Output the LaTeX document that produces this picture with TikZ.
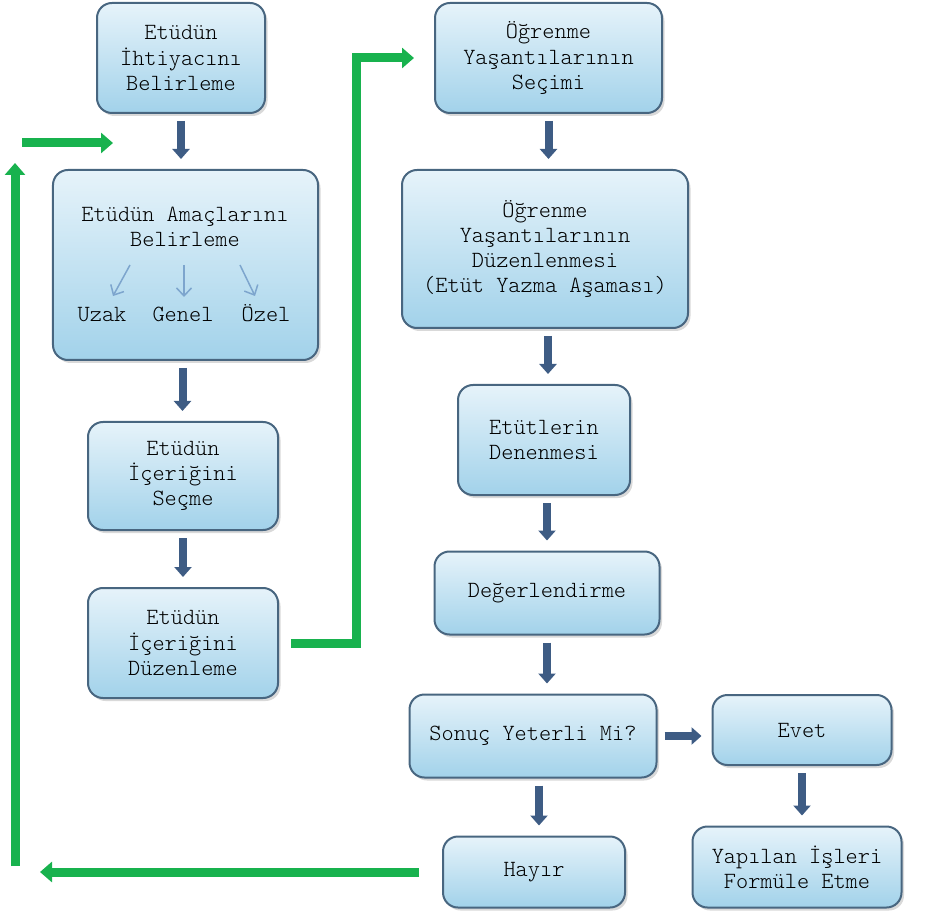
\documentclass[tikz,border=0pt]{standalone}
\usepackage{fontspec}
\newfontfamily\boxfont{Latin Modern Mono Light}
\usetikzlibrary{arrows.meta,shadows}
\definecolor{boxtop}{RGB}{230,243,250}
\definecolor{boxbot}{RGB}{162,210,234}
\definecolor{boxline}{RGB}{72,102,128}
\definecolor{flowblue}{RGB}{62,92,132}
\definecolor{backgreen}{RGB}{24,178,78}
\definecolor{subblue}{RGB}{125,165,205}
\tikzset{
  box/.style={draw=boxline, line width=0.4mm, rounded corners=3mm,
    top color=boxtop, bottom color=boxbot, align=center,
    font=\boxfont\fontsize{13.2}{14.4}\selectfont,
    drop shadow={shadow xshift=0.5mm, shadow yshift=-0.6mm, opacity=0.3}},
  flowarrow/.style={flowblue, line width=1.6mm,
    -{Triangle[width=3.4mm,length=2mm]}, shorten <=1.4mm, shorten >=2mm},
  backarrow/.style={backgreen, line width=1.8mm, -{Triangle[width=4mm,length=2.4mm]}},
  subarrow/.style={subblue, line width=0.3mm, -{Straight Barb[width=3mm,length=1.6mm]}},
  lbl/.style={font=\boxfont\fontsize{13.2}{14.4}\selectfont}
}
\begin{document}
\begin{tikzpicture}[x=0.2mm, y=-0.2mm]
  \useasboundingbox (0,0) rectangle (934,914);
  % left column
  \node[box, minimum width=33.6mm, minimum height=22mm] (ihtiyac) at (181,58) {Etüdün\\İhtiyacını\\Belirleme};
  \node[box, minimum width=53mm, minimum height=38mm] (amac) at (185.5,265) {};
  \node[lbl, align=center] (amacyazi) at (185,227) {Etüdün Amaçlarını\\Belirleme};
  \node[lbl, anchor=base] (uzak) at (102,322) {Uzak};
  \node[lbl, anchor=base] (genel) at (183,322) {Genel};
  \node[lbl, anchor=base] (ozel) at (266,322) {Özel};
  \node[box, minimum width=38mm, minimum height=21.6mm] (icsec) at (183,476) {Etüdün\\İçeriğini\\Seçme};
  \node[box, minimum width=38mm, minimum height=22mm] (icduzen) at (183,643) {Etüdün\\İçeriğini\\Düzenleme};
  % right column
  \node[box, minimum width=45.4mm, minimum height=22mm] (yassec) at (548.5,58) {Öğrenme\\Yaşantılarının\\Seçimi};
  \node[box, minimum width=57.2mm, minimum height=31.6mm] (yasduzen) at (545,249) {Öğrenme\\Yaşantılarının\\Düzenlenmesi\\(Etüt Yazma Aşaması)};
  \node[box, minimum width=34.4mm, minimum height=22mm] (deneme) at (544,440) {Etütlerin\\Denenmesi};
  \node[box, minimum width=45mm, minimum height=16.6mm] (deger) at (547,593) {Değerlendirme};
  \node[box, minimum width=49.4mm, minimum height=16.6mm] (sonuc) at (533,736) {Sonuç Yeterli Mi?};
  \node[box, minimum width=36.4mm, minimum height=14.2mm] (hayir) at (534,872) {Hayır};
  \node[box, minimum width=35.8mm, minimum height=14mm] (evet) at (802,730) {Evet};
  \node[box, minimum width=41.8mm, minimum height=16.2mm] (formul) at (797,867) {Yapılan İşleri\\Formüle Etme};
  % small arrows inside the aims box
  \coordinate (uzaks) at (130,265); \coordinate (uzake) at (113,296);
  \coordinate (genels) at (184,265); \coordinate (genele) at (184,297);
  \coordinate (ozels) at (240,265); \coordinate (ozele) at (255,296);
  \draw[subarrow] (uzaks) -- (uzake);
  \draw[subarrow] (genels) -- (genele);
  \draw[subarrow] (ozels) -- (ozele);
  % blue flow arrows
  \draw[flowarrow] (ihtiyac.south) -- (ihtiyac.south |- amac.north);
  \draw[flowarrow] ([xshift=-0.6mm]amac.south) -- ([xshift=-0.6mm]amac.south |- icsec.north);
  \draw[flowarrow] (icsec.south) -- (icsec.south |- icduzen.north);
  \draw[flowarrow] (yassec.south) -- (yassec.south |- yasduzen.north);
  \draw[flowarrow] ([xshift=0.6mm]yasduzen.south) -- ([xshift=0.6mm]yasduzen.south |- deneme.north);
  \draw[flowarrow] ([xshift=0.6mm]deneme.south) -- ([xshift=0.6mm]deneme.south |- deger.north);
  \draw[flowarrow] (deger.south) -- (deger.south |- sonuc.north);
  \draw[flowarrow] ([xshift=1.2mm]sonuc.south) -- ([xshift=1.2mm]sonuc.south |- hayir.north);
  \draw[flowarrow] (sonuc.east) -- (sonuc.east -| evet.west);
  \draw[flowarrow] (evet.south) -- (evet.south |- formul.north);
  % green connectors
  \draw[backarrow, shorten <=2.4mm, shorten >=4mm] (icduzen.east) -- ++(77,0) |- (yassec.west);
  \coordinate (donus) at (40,872);
  \draw[backarrow, shorten <=4.6mm] (hayir.west) -- (donus);
  \coordinate (solalt) at (15,866); \coordinate (solust) at (15,163);
  \draw[backarrow] (solalt) -- (solust);
  \coordinate (girisa) at (22,143); \coordinate (girisb) at (113,143);
  \draw[backarrow] (girisa) -- (girisb);
\end{tikzpicture}
\end{document}
